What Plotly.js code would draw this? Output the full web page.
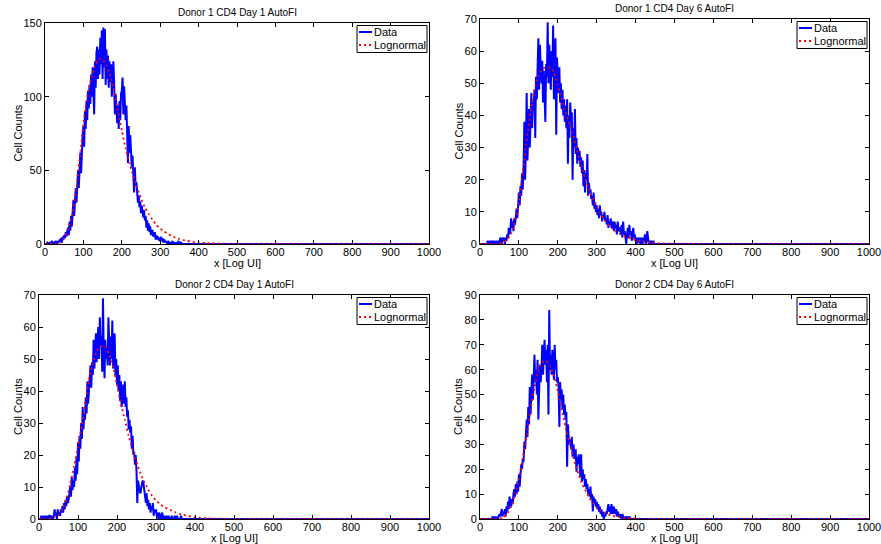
<!DOCTYPE html>
<html>
<head>
<meta charset="utf-8">
<script src="https://cdn.plot.ly/plotly-3.0.1.min.js"></script>
<style>html,body{margin:0;padding:0;background:#fff;}#chart{width:881px;height:544px;}</style>
</head>
<body>
<div id="chart"></div>
<script>
// ---- Data ----
const xTicks = [0,100,200,300,400,500,600,700,800,900,1000];
const dataStep = 2;      // histogram bin width (x units) of the typed data
const fitStep = 10;      // sampling step of the typed lognormal fit values
const tailX = [1000];    // last point of every series
const tailY = [0];

const titles = ['Donor 1 CD4 Day 1 AutoFI','Donor 1 CD4 Day 6 AutoFI','Donor 2 CD4 Day 1 AutoFI','Donor 2 CD4 Day 6 AutoFI'];
const seriesNames = ['Data','Lognormal'];
const xTitle = 'x [Log UI]';
const yTitle = 'Cell Counts';
const yTicks1 = [0,50,100,150];
const yTicks2 = [0,10,20,30,40,50,60,70];
const yTicks3 = [0,10,20,30,40,50,60,70];
const yTicks4 = [0,10,20,30,40,50,60,70,80,90];

const data1 = [
 0,0,0,1,0,0,1,0,1,2,
 0,1,1,0,2,1,0,2,1,3,
 2,4,1,5,3,6,4,8,5,9,
 11,6,15,9,19,12,24,30,19,35,
 38,28,45,50,38,56,62,48,68,74,
 80,66,90,78,97,84,104,92,108,95,
 115,100,120,98,88,124,106,130,134,112,
 132,115,140,122,145,112,147,120,146,108,
 132,112,128,106,124,110,122,100,118,124,
 110,88,102,94,82,94,78,97,84,102,
 104,113,88,107,95,84,94,70,55,80,
 62,74,58,52,60,44,35,52,40,42,
 36,28,33,25,29,21,26,19,18,23,
 16,19,11,16,9,14,8,12,6,9,
 9,5,6,8,3,6,3,5,4,2,
 3,5,2,4,1,3,2,1,2,0,
 1,2,0,1,0,1,2,0,1,0,
 0,1,0,1,2,0,0,1,0,0
];
const fit1 = [0,0,0,0.1,0.8,4,10,20,35,57,81,100,112,121,125.5,125,121,114,104,90,77,65,55,46,38,31,25,20.5,16.5,13,10.5,8.5,6.8,5.4,4.3,3.4,2.7,2.1,1.7,1.3,1.0,0.8,0.6,0.48,0.37,0.29,0.22,0.17,0.13,0.1,0.08];

const data2 = [
 0,0,0,0,0,0,0,0,0,0,
 1,0,0,1,0,0,1,0,0,1,
 0,0,1,0,1,0,2,1,0,2,
 1,2,0,2,1,3,2,5,3,4,
 8,5,7,4,8,6,9,11,8,13,
 16,12,18,15,22,17,24,38,20,30,
 47,26,35,42,30,40,47,36,44,42,
 48,33,52,45,56,64,48,62,55,50,
 57,44,54,48,38,56,52,69,50,62,
 55,48,60,52,68,45,55,64,34,58,
 52,47,55,44,50,42,48,40,45,38,
 43,36,45,25,40,33,44,38,41,20,
 36,30,42,28,33,25,30,26,29,24,
 27,22,26,18,23,16,22,20,28,15,
 19,16,17,14,15,12,16,11,13,10,
 12,9,11,8,12,9,10,7,9,8,
 10,7,8,6,9,5,7,6,8,5,
 6,7,4,7,5,6,3,7,4,5,
 5,3,6,2,7,3,4,1,0,3,
 5,2,6,3,4,1,3,5,2,3,
 1,2,0,1,2,1,0,2,1,0,
 2,1,3,0,1,4,2,0,1,0,
 1,0,0,1,0,0,0,0,0,0
];
const fit2 = [0,0,0,0,0,0.1,0.5,1.4,3.2,6.8,13,22.5,32,41,48,52.5,54.5,55,54.8,53.5,49.5,45,41,37.5,33.5,29,24.5,20.5,17,14,11.5,9.3,7.5,6,4.8,3.9,3.1,2.5,2,1.6,1.3,1,0.8,0.6,0.45,0.35,0.27,0.2,0.15,0.1,0.08];

const data3 = [
 0,0,0,1,0,1,0,0,1,0,
 1,0,0,1,1,0,0,1,0,1,
 3,1,2,0,3,1,2,1,3,2,
 4,2,5,3,6,4,7,5,6,8,
 10,7,13,9,12,10,16,12,19,14,
 24,18,26,22,30,25,35,28,33,31,
 38,33,43,36,40,44,48,41,49,45,
 56,47,52,58,49,55,60,50,63,54,
 57,46,69,52,44,56,50,54,48,63,
 52,48,57,50,62,47,53,58,45,50,
 42,48,40,45,37,43,35,40,42,36,
 43,35,38,32,34,28,31,27,29,22,
 26,20,21,17,20,15,5,12,10,9,
 8,10,11,12,11,9,7,5,8,4,
 6,3,5,2,4,3,5,1,3,2,
 3,1,2,0,2,1,0,1,2,0,
 1,0,0,1,0,0,1,0,0,0,
 1,0,0,0,1,0,0,1,0,0,
 0,0,1,0,0,0,0,0,0,0
];
const fit3 = [0,0,0,0.2,0.7,1.3,3,6,11,16.5,22.5,29.5,37.5,44.5,49.5,52.8,54,53.8,51.5,47.5,41.8,36,31,26,21.7,17.7,14.3,11.6,9.2,7.3,5.8,4.7,3.8,3.2,2.6,2.1,1.6,1.3,1,0.75,0.55,0.4,0.3,0.22,0.16,0.12,0.09,0.07,0.05,0.04,0.03];

const data4 = [
 0,0,0,0,0,0,0,0,0,0,
 0,0,0,0,0,0,1,0,1,0,
 1,0,1,0,1,2,1,3,4,1,
 3,2,4,1,5,3,7,4,9,6,
 5,8,6,10,12,9,14,10,15,11,
 18,13,17,22,20,24,23,31,28,35,
 40,33,45,38,53,42,50,58,48,62,
 66,55,60,50,64,40,58,62,55,60,
 70,58,65,72,62,68,55,70,42,84,
 60,66,58,68,62,56,70,60,64,55,
 57,53,37,55,48,52,44,50,42,46,
 40,43,21,38,33,30,32,28,33,25,
 30,27,24,28,19,25,22,26,20,17,
 26,15,20,16,18,13,16,12,14,10,
 12,9,13,8,10,3,9,6,8,5,
 7,4,6,3,5,2,4,1,3,0,
 2,1,3,2,4,6,3,5,2,6,
 4,2,5,3,2,4,1,3,2,1,
 2,1,0,2,1,0,1,0,0,1,
 0,0,1,0,0,0,0,0,0,0
];
const fit4 = [0,0,0,0,0,0.1,0.6,2.2,5,9.5,16,24.5,33.5,44,53,59.5,63,63.6,61.5,57.5,51.5,44,37,31,24.5,19.5,15,11.8,8.8,6.5,4.7,3.5,2.6,1.8,1.4,1,0.7,0.5,0.35,0.25,0.17,0.12,0.08,0.05,0.03,0.02,0.01,0,0,0,0];

// ---- Layout geometry (pixels) ----
const W = 881, H = 544;
const FONT = 'Liberation Sans, Arial, Helvetica, sans-serif';
const panels = [
  {px:[45,429], py:[23,244], yr:[0,150], yt:yTicks1, d:data1, f:fit1, ytx:18},
  {px:[480,869], py:[19,244], yr:[0,70], yt:yTicks2, d:data2, f:fit2, ytx:458},
  {px:[39,429], py:[295,519], yr:[0,70], yt:yTicks3, d:data3, f:fit3, ytx:18},
  {px:[480,869], py:[295,519], yr:[0,90], yt:yTicks4, d:data4, f:fit4, ytx:458}
];

const fx = p => p / W;
const fy = p => 1 - p / H;

const traces = [];
const layout = {
  width: W, height: H,
  margin: {l:0, r:0, t:0, b:0},
  paper_bgcolor: '#fff', plot_bgcolor: '#fff',
  showlegend: false,
  font: {family: FONT, size: 11, color: '#000'},
  annotations: [], shapes: []
};

panels.forEach((p, i) => {
  const n = i + 1;
  const xa = n === 1 ? 'x' : 'x' + n;
  const ya = n === 1 ? 'y' : 'y' + n;
  const xd = p.d.map((_, k) => k * dataStep).concat(tailX);
  const yd = p.d.concat(tailY);
  const xf = p.f.map((_, k) => k * fitStep).concat(tailX);
  const yf = p.f.concat(tailY);
  traces.push({x: xd, y: yd, xaxis: xa, yaxis: ya, type: 'scatter', mode: 'lines', name: seriesNames[0],
    line: {color: '#0000ff', width: 2}, hoverinfo: 'skip'});
  traces.push({x: xf, y: yf, xaxis: xa, yaxis: ya, type: 'scatter', mode: 'lines', name: seriesNames[1],
    line: {color: '#ff0000', width: 1.8, dash: '2px,3px', shape: 'spline', smoothing: 0.6}, hoverinfo: 'skip'});

  const axCommon = {
    showline: true, linecolor: '#000', linewidth: 1, mirror: 'ticks',
    ticks: 'inside', ticklen: 4, tickwidth: 1, tickcolor: '#000',
    showgrid: false, zeroline: false, automargin: false,
    tickfont: {family: FONT, size: 11, color: '#000'}, fixedrange: true
  };
  layout['xaxis' + (n === 1 ? '' : n)] = Object.assign({}, axCommon, {
    domain: [fx(p.px[0]), fx(p.px[1])], anchor: ya, range: [0, 1000],
    tickmode: 'array', tickvals: xTicks, ticktext: xTicks.map(String),
    ticklabeloverflow: 'allow', ticklabelstandoff: -2
  });
  layout['yaxis' + (n === 1 ? '' : n)] = Object.assign({}, axCommon, {
    domain: [fy(p.py[1]), fy(p.py[0])], anchor: xa, range: p.yr,
    tickmode: 'array', tickvals: p.yt, ticktext: p.yt.map(String),
    ticklabeloverflow: 'allow'
  });

  // panel title
  layout.annotations.push({text: titles[i], xref: 'paper', yref: 'paper',
    x: fx((p.px[0] + p.px[1]) / 2), y: fy(p.py[0] - 10.5), xanchor: 'center', yanchor: 'middle',
    showarrow: false, font: {family: FONT, size: 10, color: '#000'}});
  // axis titles
  layout.annotations.push({text: xTitle, xref: 'paper', yref: 'paper',
    x: fx((p.px[0] + p.px[1]) / 2), y: fy(p.py[1] + 19), xanchor: 'center', yanchor: 'middle',
    showarrow: false, font: {family: FONT, size: 11, color: '#000'}});
  layout.annotations.push({text: yTitle, xref: 'paper', yref: 'paper', textangle: -90,
    x: fx(p.ytx), y: fy((p.py[0] + p.py[1]) / 2), xanchor: 'center', yanchor: 'middle',
    showarrow: false, font: {family: FONT, size: 11, color: '#000'}});

  // legend box (MATLAB style, inside top-right)
  const right = p.px[1] - 2, left = right - 70, top = p.py[0] + 2.5, bottom = top + 27;
  layout.shapes.push({type: 'rect', xref: 'paper', yref: 'paper', x0: fx(left), x1: fx(right), y0: fy(bottom), y1: fy(top),
    line: {color: '#000', width: 1}, fillcolor: '#fff', layer: 'above'});
  const rows = [top + 6.5, top + 19.5];
  layout.shapes.push({type: 'line', xref: 'paper', yref: 'paper', x0: fx(left + 2), x1: fx(left + 15), y0: fy(rows[0]), y1: fy(rows[0]),
    line: {color: '#0000ff', width: 2}, layer: 'above'});
  layout.shapes.push({type: 'line', xref: 'paper', yref: 'paper', x0: fx(left + 2), x1: fx(left + 15), y0: fy(rows[1]), y1: fy(rows[1]),
    line: {color: '#ff0000', width: 1.8, dash: '2px,3px'}, layer: 'above'});
  seriesNames.forEach((nm, r) => {
    layout.annotations.push({text: nm, xref: 'paper', yref: 'paper', x: fx(left + 15.5), y: fy(rows[r]),
      xanchor: 'left', yanchor: 'middle', showarrow: false, borderpad: 0,
      font: {family: FONT, size: 11, color: '#000'}});
  });
});

Plotly.newPlot('chart', traces, layout, {staticPlot: true, displayModeBar: false});
</script>
</body>
</html>
